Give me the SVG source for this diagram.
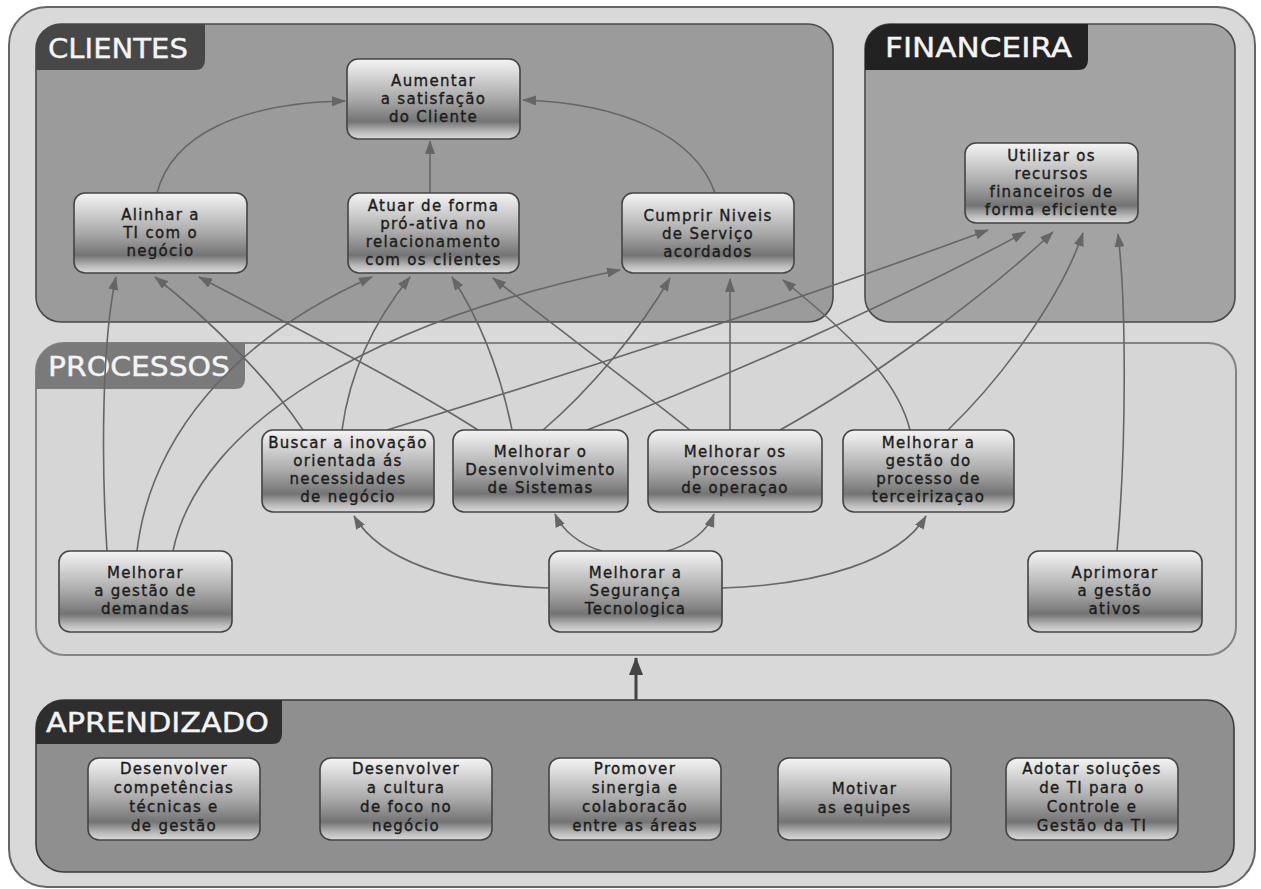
<svg xmlns="http://www.w3.org/2000/svg" width="1261" height="889" viewBox="0 0 1261 889">
<defs>
<linearGradient id="g" x1="0" y1="0" x2="0" y2="1">
<stop offset="0" stop-color="#f4f4f4"/>
<stop offset="0.15" stop-color="#dedede"/>
<stop offset="0.5" stop-color="#a9a9a9"/>
<stop offset="0.78" stop-color="#747474"/>
<stop offset="0.92" stop-color="#bdbdbd"/>
<stop offset="1" stop-color="#dadada"/>
</linearGradient>
<marker id="ah" markerWidth="14" markerHeight="10" refX="13" refY="5" orient="auto" markerUnits="userSpaceOnUse"><path d="M0,0 L14,5 L0,10 Z" fill="#666"/></marker>
<marker id="ah2" markerWidth="18" markerHeight="14" refX="17" refY="7" orient="auto" markerUnits="userSpaceOnUse"><path d="M0,0 L18,7 L0,14 Z" fill="#444"/></marker>
</defs>
<style>
.node rect{fill:url(#g);stroke:#444;stroke-width:1.6}
.node text{font-family:"DejaVu Sans",sans-serif;font-size:15px;letter-spacing:1.3px;fill:#1c1c1c;stroke:#1c1c1c;stroke-width:0.35;text-anchor:middle}
.title{font-family:"DejaVu Sans",sans-serif;font-size:27px;fill:#f4f4f4;stroke:#f4f4f4;stroke-width:0.4}
.conn path{fill:none;stroke:#666;stroke-width:1.6;marker-end:url(#ah)}
</style>
<rect x="9" y="7" width="1246" height="880" rx="38" fill="#d9d9d9" stroke="#666" stroke-width="2"/>
<g id="panel-clientes">
<rect x="36" y="24" width="797" height="298" rx="25" fill="#9b9b9b" stroke="#4a4a4a" stroke-width="1.6"/>
<path d="M36,49 A25,25 0 0 1 61,24 L205,24 L205,60 Q205,70 195,70 L36,70 Z" fill="#474747"/>
<text class="title" x="48" y="58" textLength="140" lengthAdjust="spacingAndGlyphs">CLIENTES</text>
</g>
<g id="panel-financeira">
<rect x="865" y="24" width="370" height="298" rx="25" fill="#a3a3a3" stroke="#4a4a4a" stroke-width="1.6"/>
<path d="M865,49 A25,25 0 0 1 890,24 L1088,24 L1088,60 Q1088,70 1078,70 L865,70 Z" fill="#222"/>
<text class="title" x="885" y="57" textLength="187" lengthAdjust="spacingAndGlyphs">FINANCEIRA</text>
</g>
<g id="panel-processos">
<rect x="36" y="343" width="1200" height="312" rx="28" fill="#d6d6d6" stroke="#838383" stroke-width="2"/>
<path d="M36,371 A28,28 0 0 1 64,343 L245,343 L245,379 Q245,389 235,389 L36,389 Z" fill="#7a7a7a"/>
<text class="title" x="48" y="376" textLength="182" lengthAdjust="spacingAndGlyphs">PROCESSOS</text>
</g>
<g id="panel-aprendizado">
<rect x="36" y="700" width="1198" height="172" rx="28" fill="#8f8f8f" stroke="#3a3a3a" stroke-width="1.6"/>
<path d="M36,728 A28,28 0 0 1 64,700 L282,700 L282,734 Q282,744 272,744 L36,744 Z" fill="#2e2e2e"/>
<text class="title" x="46" y="732" textLength="223" lengthAdjust="spacingAndGlyphs">APRENDIZADO</text>
</g>
<g id="connectors" class="conn">
<path d="M157,193 C172,135 240,103 345,101"/>
<path d="M430,193 L430,141"/>
<path d="M715,193 C695,135 620,103 523,100"/>
<path d="M107,551 C101,460 102,340 116,277"/>
<path d="M137,551 C150,440 230,340 372,277"/>
<path d="M173,551 C200,420 380,320 620,270"/>
<path d="M303,430 C270,380 210,320 155,277"/>
<path d="M478,430 C400,380 280,320 199,277"/>
<path d="M342,430 C350,370 375,320 410,277"/>
<path d="M387,430 C550,380 800,300 988,230"/>
<path d="M512,430 C500,370 480,320 452,277"/>
<path d="M543,430 C590,390 640,330 670,278"/>
<path d="M587,430 C720,380 900,300 1025,232"/>
<path d="M690,430 C640,390 560,330 493,278"/>
<path d="M730,430 L730,279"/>
<path d="M780,430 C870,380 980,300 1053,232"/>
<path d="M910,430 C900,390 870,350 783,280"/>
<path d="M948,430 C1000,380 1060,300 1083,233"/>
<path d="M1117,551 C1127,440 1126,300 1118,234"/>
<path d="M549,588 C450,585 380,560 354,516"/>
<path d="M602,551 C580,545 562,530 555,514"/>
<path d="M667,551 C690,545 708,530 714,514"/>
<path d="M722,588 C820,585 900,560 926,516"/>
<path d="M636,700 L636,658" style="stroke:#444;stroke-width:3;marker-end:url(#ah2)"/>
</g>
<g id="n-aumentar" class="node"><rect x="347" y="59" width="173" height="80" rx="11"/><text x="433.5" y="86">Aumentar</text><text x="433.5" y="104">a satisfação</text><text x="433.5" y="122">do Cliente</text></g>
<g id="n-alinhar" class="node"><rect x="74" y="193" width="173" height="80" rx="11"/><text x="160.5" y="220">Alinhar a</text><text x="160.5" y="238">TI com o</text><text x="160.5" y="256">negócio</text></g>
<g id="n-atuar" class="node"><rect x="348" y="193" width="171" height="80" rx="11"/><text x="433.5" y="211">Atuar de forma</text><text x="433.5" y="229">pró-ativa no</text><text x="433.5" y="247">relacionamento</text><text x="433.5" y="265">com os clientes</text></g>
<g id="n-cumprir" class="node"><rect x="622" y="193" width="172" height="80" rx="11"/><text x="708" y="221">Cumprir Niveis</text><text x="708" y="239">de Serviço</text><text x="708" y="257">acordados</text></g>
<g id="n-utilizar" class="node"><rect x="965" y="143" width="173" height="80" rx="11"/><text x="1051.5" y="161">Utilizar os</text><text x="1051.5" y="179">recursos</text><text x="1051.5" y="197">financeiros de</text><text x="1051.5" y="215">forma eficiente</text></g>
<g id="n-buscar" class="node"><rect x="262" y="430" width="172" height="82" rx="11"/><text x="348" y="448">Buscar a inovação</text><text x="348" y="466">orientada ás</text><text x="348" y="484">necessidades</text><text x="348" y="502">de negócio</text></g>
<g id="n-desenv" class="node"><rect x="453" y="430" width="175" height="82" rx="11"/><text x="540.5" y="457">Melhorar o</text><text x="540.5" y="475">Desenvolvimento</text><text x="540.5" y="493">de Sistemas</text></g>
<g id="n-operacao" class="node"><rect x="648" y="430" width="174" height="82" rx="11"/><text x="735" y="457">Melhorar os</text><text x="735" y="475">processos</text><text x="735" y="493">de operaçao</text></g>
<g id="n-terceir" class="node"><rect x="843" y="430" width="171" height="82" rx="11"/><text x="928.5" y="448">Melhorar a</text><text x="928.5" y="466">gestão do</text><text x="928.5" y="484">processo de</text><text x="928.5" y="502">terceirizaçao</text></g>
<g id="n-demandas" class="node"><rect x="59" y="551" width="173" height="81" rx="11"/><text x="145.5" y="578">Melhorar</text><text x="145.5" y="596">a gestão de</text><text x="145.5" y="614">demandas</text></g>
<g id="n-seguranca" class="node"><rect x="549" y="551" width="173" height="81" rx="11"/><text x="635.5" y="578">Melhorar a</text><text x="635.5" y="596">Segurança</text><text x="635.5" y="614">Tecnologica</text></g>
<g id="n-aprimorar" class="node"><rect x="1028" y="551" width="174" height="81" rx="11"/><text x="1115" y="578">Aprimorar</text><text x="1115" y="596">a gestão</text><text x="1115" y="614">ativos</text></g>
<g id="n-competencias" class="node"><rect x="88" y="758" width="172" height="82" rx="11"/><text x="174" y="774">Desenvolver</text><text x="174" y="793">competências</text><text x="174" y="812">técnicas e</text><text x="174" y="831">de gestão</text></g>
<g id="n-cultura" class="node"><rect x="320" y="758" width="172" height="82" rx="11"/><text x="406" y="774">Desenvolver</text><text x="406" y="793">a cultura</text><text x="406" y="812">de foco no</text><text x="406" y="831">negócio</text></g>
<g id="n-sinergia" class="node"><rect x="549" y="758" width="172" height="82" rx="11"/><text x="635" y="774">Promover</text><text x="635" y="793">sinergia e</text><text x="635" y="812">colaboracão</text><text x="635" y="831">entre as áreas</text></g>
<g id="n-motivar" class="node"><rect x="778" y="758" width="173" height="82" rx="11"/><text x="864.5" y="794">Motivar</text><text x="864.5" y="813">as equipes</text></g>
<g id="n-adotar" class="node"><rect x="1006" y="758" width="172" height="82" rx="11"/><text x="1092" y="774">Adotar soluções</text><text x="1092" y="793">de TI para o</text><text x="1092" y="812">Controle e</text><text x="1092" y="831">Gestão da TI</text></g>
</svg>
